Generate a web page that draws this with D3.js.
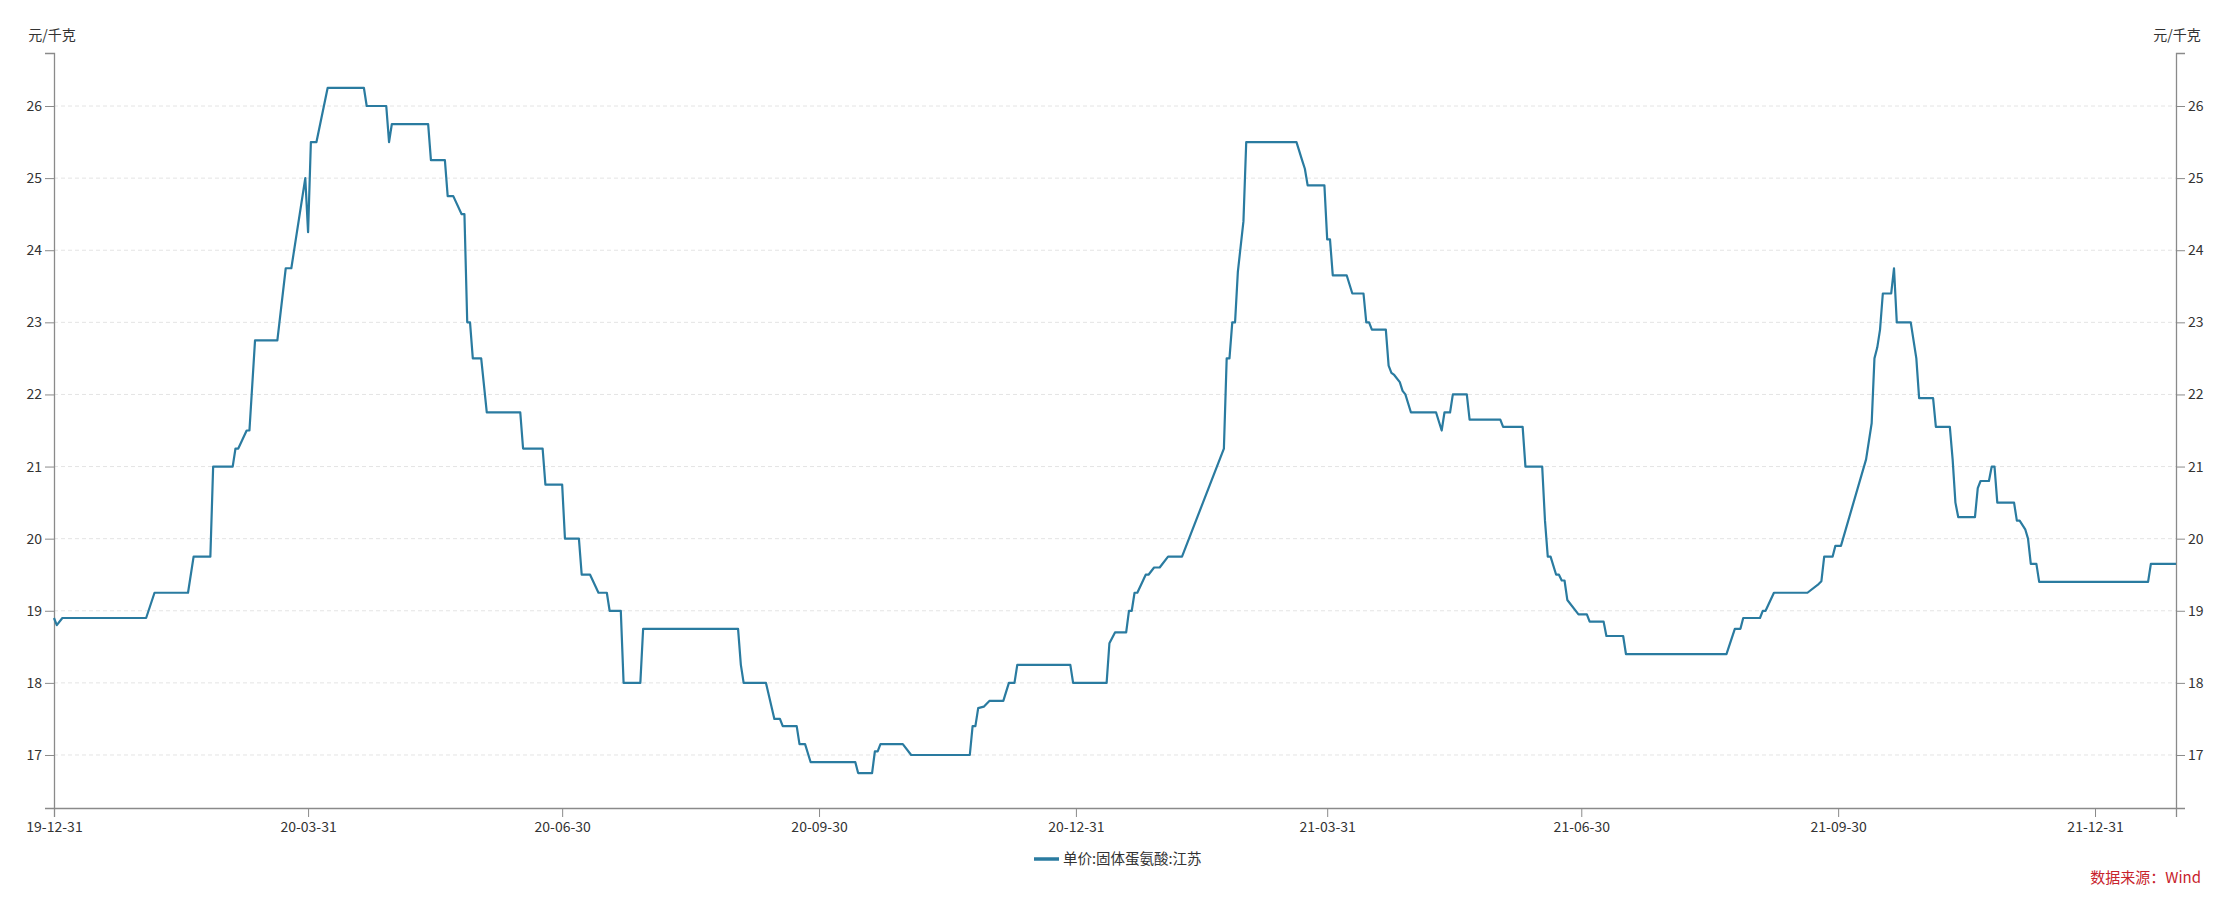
<!DOCTYPE html>
<html>
<head>
<meta charset="utf-8">
<script src="https://cdn.jsdelivr.net/npm/d3@7/dist/d3.min.js"></script>
<style>
  html, body { margin: 0; padding: 0; background: #ffffff; }
  svg { display: block; }
  text { font-family: "Noto Sans CJK SC", "Noto Sans", "Liberation Sans", sans-serif; }
</style>
</head>
<body>
<svg id="chart" width="2230" height="897"></svg>
<script>
// ---------------- data ----------------
const seriesName = "单价:固体蛋氨酸:江苏";
const unitLabel = "元/千克";
const sourceLabel = "数据来源：Wind";

const dates = [
  "2019-12-31","2020-01-01","2020-01-03","2020-02-02","2020-02-05","2020-02-17","2020-02-19","2020-02-25",
  "2020-02-26","2020-03-04","2020-03-05","2020-03-06","2020-03-09","2020-03-10","2020-03-12","2020-03-20",
  "2020-03-23","2020-03-25","2020-03-30","2020-03-31","2020-04-01","2020-04-03","2020-04-07","2020-04-20",
  "2020-04-21","2020-04-28","2020-04-29","2020-04-30","2020-05-13","2020-05-14","2020-05-19","2020-05-20",
  "2020-05-22","2020-05-25","2020-05-26","2020-05-27","2020-05-28","2020-05-29","2020-06-01","2020-06-03",
  "2020-06-15","2020-06-16","2020-06-23","2020-06-24","2020-06-30","2020-07-01","2020-07-06","2020-07-07",
  "2020-07-10","2020-07-13","2020-07-16","2020-07-17","2020-07-21","2020-07-22","2020-07-28","2020-07-29",
  "2020-09-01","2020-09-02","2020-09-03","2020-09-11","2020-09-14","2020-09-16","2020-09-17","2020-09-22",
  "2020-09-23","2020-09-25","2020-09-27","2020-10-13","2020-10-14","2020-10-19","2020-10-20","2020-10-21",
  "2020-10-22","2020-10-30","2020-11-02","2020-11-23","2020-11-24","2020-11-25","2020-11-26","2020-11-28",
  "2020-11-30","2020-12-05","2020-12-07","2020-12-09","2020-12-10","2020-12-29","2020-12-30","2021-01-11",
  "2021-01-12","2021-01-14","2021-01-18","2021-01-19","2021-01-20","2021-01-21","2021-01-22","2021-01-25",
  "2021-01-26","2021-01-28","2021-01-30","2021-02-02","2021-02-07","2021-02-22","2021-02-23","2021-02-24",
  "2021-02-25","2021-02-26","2021-02-27","2021-03-01","2021-03-02","2021-03-20","2021-03-22","2021-03-23",
  "2021-03-24","2021-03-30","2021-03-31","2021-04-01","2021-04-02","2021-04-07","2021-04-09","2021-04-13",
  "2021-04-14","2021-04-15","2021-04-16","2021-04-21","2021-04-22","2021-04-23","2021-04-24","2021-04-26",
  "2021-04-27","2021-04-28","2021-04-30","2021-05-09","2021-05-11","2021-05-12","2021-05-14","2021-05-15",
  "2021-05-20","2021-05-21","2021-06-01","2021-06-02","2021-06-09","2021-06-10","2021-06-16","2021-06-17",
  "2021-06-18","2021-06-19","2021-06-21","2021-06-22","2021-06-23","2021-06-24","2021-06-25","2021-06-29",
  "2021-07-02","2021-07-03","2021-07-08","2021-07-09","2021-07-15","2021-07-16","2021-08-21","2021-08-24",
  "2021-08-26","2021-08-27","2021-09-02","2021-09-03","2021-09-04","2021-09-07","2021-09-19","2021-09-23",
  "2021-09-24","2021-09-25","2021-09-28","2021-09-29","2021-10-01","2021-10-10","2021-10-12","2021-10-13",
  "2021-10-14","2021-10-15","2021-10-16","2021-10-19","2021-10-20","2021-10-21","2021-10-26","2021-10-28",
  "2021-10-29","2021-11-03","2021-11-04","2021-11-09","2021-11-10","2021-11-11","2021-11-12","2021-11-18",
  "2021-11-19","2021-11-20","2021-11-23","2021-11-24","2021-11-25","2021-11-26","2021-12-02","2021-12-03",
  "2021-12-04","2021-12-06","2021-12-07","2021-12-08","2021-12-10","2021-12-11","2022-01-19","2022-01-20",
  "2022-01-29"
];

const prices = [
  18.9, 18.8, 18.9, 18.9, 19.25, 19.25, 19.75, 19.75,
  21.0, 21.0, 21.25, 21.25, 21.5, 21.5, 22.75, 22.75,
  23.75, 23.75, 25.0, 24.25, 25.5, 25.5, 26.25, 26.25,
  26.0, 26.0, 25.5, 25.75, 25.75, 25.25, 25.25, 24.75,
  24.75, 24.5, 24.5, 23.0, 23.0, 22.5, 22.5, 21.75,
  21.75, 21.25, 21.25, 20.75, 20.75, 20.0, 20.0, 19.5,
  19.5, 19.25, 19.25, 19.0, 19.0, 18.0, 18.0, 18.75,
  18.75, 18.25, 18.0, 18.0, 17.5, 17.5, 17.4, 17.4,
  17.15, 17.15, 16.9, 16.9, 16.75, 16.75, 17.05, 17.05,
  17.15, 17.15, 17.0, 17.0, 17.4, 17.4, 17.65, 17.67,
  17.75, 17.75, 18.0, 18.0, 18.25, 18.25, 18.0, 18.0,
  18.55, 18.7, 18.7, 19.0, 19.0, 19.25, 19.25, 19.5,
  19.5, 19.6, 19.6, 19.75, 19.75, 21.25, 22.5, 22.5,
  23.0, 23.0, 23.7, 24.4, 25.5, 25.5, 25.25, 25.13,
  24.9, 24.9, 24.15, 24.15, 23.65, 23.65, 23.4, 23.4,
  23.0, 23.0, 22.9, 22.9, 22.4, 22.3, 22.27, 22.17,
  22.05, 22.0, 21.75, 21.75, 21.5, 21.75, 21.75, 22.0,
  22.0, 21.65, 21.65, 21.55, 21.55, 21.0, 21.0, 20.25,
  19.75, 19.75, 19.5, 19.5, 19.42, 19.42, 19.15, 18.95,
  18.95, 18.85, 18.85, 18.65, 18.65, 18.4, 18.4, 18.75,
  18.75, 18.9, 18.9, 19.0, 19.0, 19.25, 19.25, 19.37,
  19.41, 19.75, 19.75, 19.9, 19.9, 21.1, 21.6, 22.5,
  22.65, 22.9, 23.4, 23.4, 23.75, 23.0, 23.0, 22.5,
  21.95, 21.95, 21.55, 21.55, 21.1, 20.5, 20.3, 20.3,
  20.7, 20.8, 20.8, 21.0, 21.0, 20.5, 20.5, 20.25,
  20.25, 20.13, 20.0, 19.65, 19.65, 19.4, 19.4, 19.65,
  19.65
];

const xTickDates = ["2019-12-31","2020-03-31","2020-06-30","2020-09-30","2020-12-31",
                    "2021-03-31","2021-06-30","2021-09-30","2021-12-31"];
const yTicks = [17, 18, 19, 20, 21, 22, 23, 24, 25, 26];
const xDomain = ["2019-12-31", "2022-01-29"];
const yDomain = [16.265, 26.735];

// ---------------- layout ----------------
const W = 2230, H = 897;
const plot = { left: 54, right: 2176, top: 53, bottom: 808 };
const lineColor = "#2a7ba0";
const axisColor = "#8a8a8a";
const textColor = "#333333";

const parse = d3.timeParse("%Y-%m-%d");
const fmt = d3.timeFormat("%y-%m-%d");
const data = dates.map((d, i) => ({ date: parse(d), value: prices[i] }));

const x = d3.scaleTime().domain(xDomain.map(parse)).range([plot.left, plot.right]);
const y = d3.scaleLinear().domain(yDomain).range([plot.bottom, plot.top]);

const svg = d3.select("#chart");
svg.append("rect").attr("width", W).attr("height", H).attr("fill", "#fff");

// grid
svg.append("g").selectAll("line").data(yTicks).join("line")
  .attr("x1", plot.left).attr("x2", plot.right)
  .attr("y1", d => y(d)).attr("y2", d => y(d))
  .attr("stroke", "#e4e4e4").attr("stroke-width", 1)
  .attr("stroke-dasharray", "4,3");

// left axis
const gl = svg.append("g").attr("transform", `translate(${plot.left},0)`)
  .call(d3.axisLeft(y).tickValues(yTicks).tickSize(9).tickPadding(3).tickFormat(d3.format("d")));
// right axis
const gr = svg.append("g").attr("transform", `translate(${plot.right},0)`)
  .call(d3.axisRight(y).tickValues(yTicks).tickSize(9).tickPadding(3).tickFormat(d3.format("d")));
// bottom axis
const gb = svg.append("g").attr("transform", `translate(0,${plot.bottom})`)
  .call(d3.axisBottom(x).tickValues(xTickDates.map(parse)).tickSize(9).tickPadding(5).tickFormat(fmt));

[gl, gr, gb].forEach(g => {
  g.select(".domain").attr("stroke", axisColor).attr("stroke-width", 1.3);
  g.selectAll(".tick line").attr("stroke", axisColor).attr("stroke-width", 1);
  g.selectAll(".tick text").attr("fill", textColor).style("font-size", "14px")
    .style("font-family", '"Noto Sans CJK SC", "Liberation Sans", sans-serif');
});

// unit labels
svg.append("text").attr("x", 52).attr("y", 40).attr("text-anchor", "middle")
  .attr("fill", textColor).style("font-size", "14px").text(unitLabel);
svg.append("text").attr("x", 2177).attr("y", 40).attr("text-anchor", "middle")
  .attr("fill", textColor).style("font-size", "14px").text(unitLabel);

// line
const line = d3.line().x(d => x(d.date)).y(d => y(d.value));
svg.append("path").datum(data)
  .attr("d", line)
  .attr("fill", "none")
  .attr("stroke", lineColor)
  .attr("stroke-width", 2.2)
  .attr("stroke-linejoin", "round");

// legend
const legend = svg.append("g").attr("transform", "translate(1034,859)");
legend.append("line").attr("x1", 0).attr("x2", 25).attr("y1", 0).attr("y2", 0)
  .attr("stroke", lineColor).attr("stroke-width", 3.5);
legend.append("text").attr("x", 29).attr("y", 5).attr("fill", textColor)
  .style("font-size", "14.5px").text(seriesName);

// source
svg.append("text").attr("x", 2201).attr("y", 883).attr("text-anchor", "end")
  .attr("fill", "#c8232c").style("font-size", "15px").text(sourceLabel);
</script>
</body>
</html>
